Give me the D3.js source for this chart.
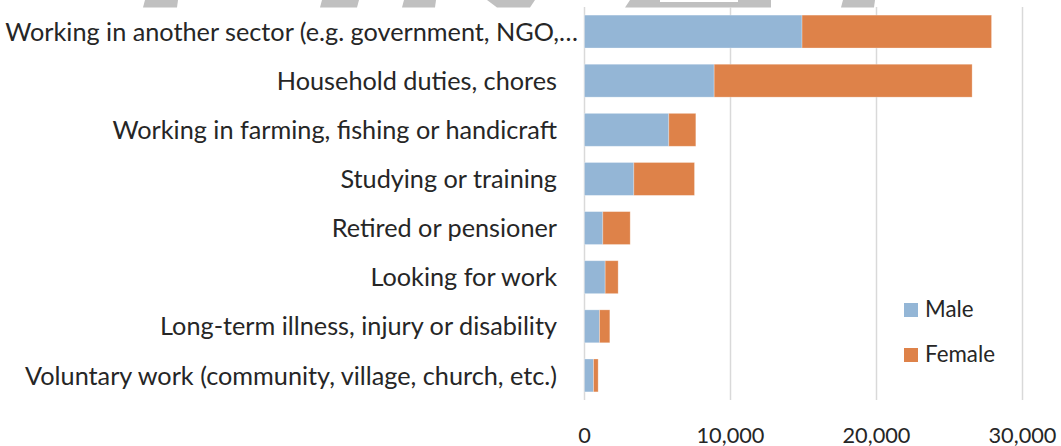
<!DOCTYPE html>
<html>
<head>
<meta charset="utf-8">
<script src="https://cdn.jsdelivr.net/npm/d3@7"></script>
<style>
  body { margin: 0; background: #fff; }
  svg { display: block; }
  text { font-family: "Lato", "Open Sans", sans-serif; fill: #262626; }
</style>
</head>
<body>
<svg id="chart" width="1061" height="446"></svg>
<script>
// categories, top to bottom
var categories = [
  "Working in another sector (e.g. government, NGO,\u2026",
  "Household duties, chores",
  "Working in farming, fishing or handicraft",
  "Studying or training",
  "Retired or pensioner",
  "Looking for work",
  "Long-term illness, injury or disability",
  "Voluntary work (community, village, church, etc.)"
];
var male   = [14900, 8880, 5775, 3380, 1255, 1415, 1030, 620];
var female = [12980, 17670, 1850, 4155, 1875, 890, 705, 315];
var seriesNames = ["Male", "Female"];
var seriesColors = ["#94b6d6", "#de8249"];
var xTicks = [0, 10000, 20000, 30000];

const svg = d3.select("#chart");
const plotLeft = 584, plotRight = 1022, plotTop = 7, plotBottom = 400;

var x = d3.scaleLinear().domain([0, 30000]).range([plotLeft, plotRight]);
var y = d3.scaleBand().domain(categories).range([plotTop, plotBottom])
  .paddingInner(0.33).paddingOuter(0.165);

// measure helper - pick font size so text gets the wanted width
function fitSize(str, wanted) {
  var t = svg.append("text").attr("font-size", 100).text(str);
  var w = t.node().getComputedTextLength();
  t.remove();
  return 100 * wanted / w;
}
var catSize = fitSize("Voluntary work (community, village, church, etc.)", 532);
var tickSize = fitSize("30,000", 68);
var legSize = fitSize("Female", 70);

// watermark bits (bottom of big grey letters cut at the top edge)
var wm = [
  [[145,0],[178,0],[177,7.5],[143,7.5]],
  [[322,0],[359,0],[357,7.5],[320,7.5]],
  [[404,0],[436,0],[435,7.5],[402,7.5]],
  [[487,0],[535,0],[530,7.5],[497,7.5]],
  [[630,0],[660,0],[660,2],[738,2],[738,0],[771,0],[771,7.5],[625,7.5]],
  [[843,0],[875,0],[874,7.5],[841,7.5]]
];
svg.append("g").selectAll("polygon").data(wm).enter().append("polygon")
  .attr("points", function(d) { return d.map(function(p) { return p.join(","); }).join(" "); })
  .attr("fill", "#c0c0c0");

// x axis + gridlines
var xAxis = d3.axisBottom(x).tickValues(xTicks).tickFormat(d3.format(","))
  .tickSizeInner(-(plotBottom - plotTop)).tickSizeOuter(0);
var gx = svg.append("g").attr("transform", "translate(0," + plotBottom + ")").call(xAxis);
gx.select(".domain").remove();
gx.selectAll(".tick line").attr("stroke", "#d9d9d9").attr("stroke-width", 1.5);
gx.selectAll(".tick text")
  .attr("y", 43).attr("dy", 0)
  .attr("font-size", tickSize)
  .attr("font-family", null)
  .attr("fill", "#262626");

// stacked bars
var stackData = categories.map(function(c, i) { return { cat: c, Male: male[i], Female: female[i] }; });
var stacked = d3.stack().keys(seriesNames)(stackData);

svg.append("g").selectAll("g").data(stacked).enter().append("g")
  .attr("fill", function(d, i) { return seriesColors[i]; })
  .selectAll("rect").data(function(d) { return d; }).enter().append("rect")
  .attr("x", function(d) { return x(d[0]) + 0.5; })
  .attr("y", function(d) { return y(d.data.cat); })
  .attr("width", function(d) { return x(d[1]) - x(d[0]); })
  .attr("height", y.bandwidth())
  .attr("stroke", "#fff").attr("stroke-opacity", 0.35).attr("stroke-width", 0.8);

// category labels
var yAxis = d3.axisLeft(y).tickSize(0).tickPadding(0);
var gy = svg.append("g").attr("transform", "translate(557,0)").call(yAxis);
gy.select(".domain").remove();
gy.selectAll(".tick text")
  .attr("font-size", catSize)
  .attr("font-family", null)
  .attr("fill", "#262626")
  .attr("dy", "0.36em")
  .attr("x", function(d, i) { return i == 0 ? 21 : 0; });

// legend
var leg = svg.append("g").selectAll("g").data(seriesNames).enter().append("g")
  .attr("transform", function(d, i) { return "translate(904," + (303 + i * 45) + ")"; });
leg.append("rect").attr("width", 14).attr("height", 14)
  .attr("fill", function(d, i) { return seriesColors[i]; });
leg.append("text").attr("x", 21).attr("y", 14).attr("font-size", legSize).text(function(d) { return d; });
</script>
</body>
</html>
